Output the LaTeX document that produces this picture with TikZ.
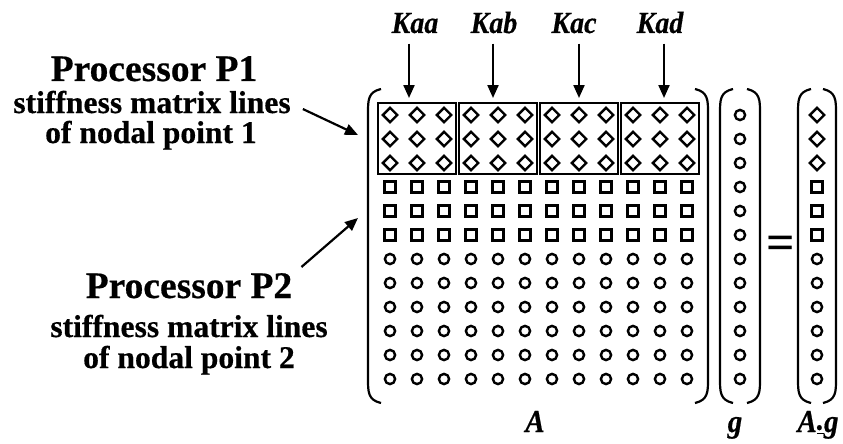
\documentclass[tikz,border=0pt]{standalone}
\usepackage{fontspec}
\setmainfont{Liberation Serif}[BoldFeatures={FakeBold=0.5},BoldItalicFeatures={FakeBold=0.5}]
\newfontfamily\eqsignfont{Liberation Serif Bold}
\usetikzlibrary{arrows.meta,calc}

\tikzset{
  sym/.style={line width=2.4pt},
  blk/.style={draw, line width=2.6pt, minimum width=78pt, minimum height=71pt, inner sep=0pt},
  brk/.style={line width=2.2pt},
  arr/.style={line width=2.2pt, -{Triangle[length=13pt,width=11pt]}},
  ptitle/.style={inner sep=0pt, anchor=base, font=\fontsize{37.5}{40}\selectfont\bfseries},
  psub/.style={inner sep=0pt, anchor=base, font=\fontsize{31.6}{34}\selectfont\bfseries},
  klabel/.style={inner sep=0pt, anchor=base, font=\fontsize{28}{30}\selectfont\bfseries\itshape},
  vlabel/.style={inner sep=0pt, anchor=base, font=\fontsize{29}{30}\selectfont\bfseries\itshape},
}
\newcommand\tallk[1]{\scalebox{1}[1.1]{#1}}

\begin{document}
\begin{tikzpicture}[x=1pt, y=-1pt]
  \useasboundingbox (0,0) rectangle (843,444);

  % block labels above the first rows
  \node[klabel] (kaa) at (415,33) {\tallk{Kaa}};
  \node[klabel] (kab) at (494,33) {\tallk{Kab}};
  \node[klabel] (kac) at (574,33) {\tallk{Kac}};
  \node[klabel] (kad) at (660,33) {\tallk{Kad}};

  % framed 3x3 blocks of nodal point 1
  \node[blk] (b1) at (417,138.5) {};
  \node[blk] (b2) at (498,138.5) {};
  \node[blk] (b3) at (579,138.5) {};
  \node[blk] (b4) at (660,138.5) {};

  \coordinate (t1) at (409,98);
  \coordinate (t2) at (493,98);
  \coordinate (t3) at (579,98);
  \coordinate (t4) at (664,98);
  \draw[arr, shorten <=10pt] (t1 |- kaa.south) -- (t1);
  \draw[arr, shorten <=10pt] (t2 |- kab.south) -- (t2);
  \draw[arr, shorten <=10pt] (t3 |- kac.south) -- (t3);
  \draw[arr, shorten <=10pt] (t4 |- kad.south) -- (t4);

  % matrix A entries
  \foreach \i in {0,...,11} {
    \foreach \j in {0,1,2}
      \draw[sym] ({390+27*\i},{115+24*\j}) +(-7.2,0) -- +(0,-7.2) -- +(7.2,0) -- +(0,7.2) -- cycle;
    \foreach \j in {3,4,5}
      \draw[sym] ({390+27*\i},{115+24*\j}) +(-5.4,-5.4) rectangle +(5.4,5.4);
    \foreach \j in {6,...,11}
      \draw[sym] ({390+27*\i},{115+24*\j}) circle[radius=5.1];
  }

  % vector g
  \foreach \j in {0,...,11}
    \draw[sym] (740,{115+24*\j}) circle[radius=5.1];

  % vector A.g
  \foreach \j in {0,1,2}
    \draw[sym] (817,{115+24*\j}) +(-7.2,0) -- +(0,-7.2) -- +(7.2,0) -- +(0,7.2) -- cycle;
  \foreach \j in {3,4,5}
    \draw[sym] (817,{115+24*\j}) +(-5.4,-5.4) rectangle +(5.4,5.4);
  \foreach \j in {6,...,11}
    \draw[sym] (817,{115+24*\j}) circle[radius=5.1];

  % parentheses
  \foreach \v/\e in {368/381, 708/695, 720/733, 760/747, 798/811, 836/823}
    \draw[brk] (\e,89) .. controls (\v,92) and (\v,100) .. (\v,113)
      -- (\v,379) .. controls (\v,392) and (\v,400) .. (\e,403);

  \node[inner sep=0pt, font=\fontsize{50}{56}\eqsignfont] (eq) at (781,248) {=};

  % names under the factors
  \node[vlabel] (la) at (535,432) {\tallk{A}};
  \node[vlabel] (lg) at (735,432) {\tallk{g}};
  \node[vlabel] (lag) at (818,432) {\tallk{A\underline{\raisebox{2pt}{.}}g}};

  % processor captions
  \node[ptitle] (p1a) at (154,81) {Processor P1};
  \node[psub] (p1b) at (152,113) {stiffness matrix lines};
  \node[psub] (p1c) at (151,143) {of nodal point 1};

  \node[ptitle] (p2a) at (189,298) {Processor P2};
  \node[psub] (p2b) at (189,337) {stiffness matrix lines};
  \node[psub] (p2c) at (189,368) {of nodal point 2};

  \coordinate (m1) at (358,135);
  \coordinate (m2) at (358,218);
  \draw[arr] ($(p1b.east)+(12,7)$) -- (m1);
  \draw[arr] ($(p2a.north east)+(9,-6)$) -- (m2);
\end{tikzpicture}
\end{document}
